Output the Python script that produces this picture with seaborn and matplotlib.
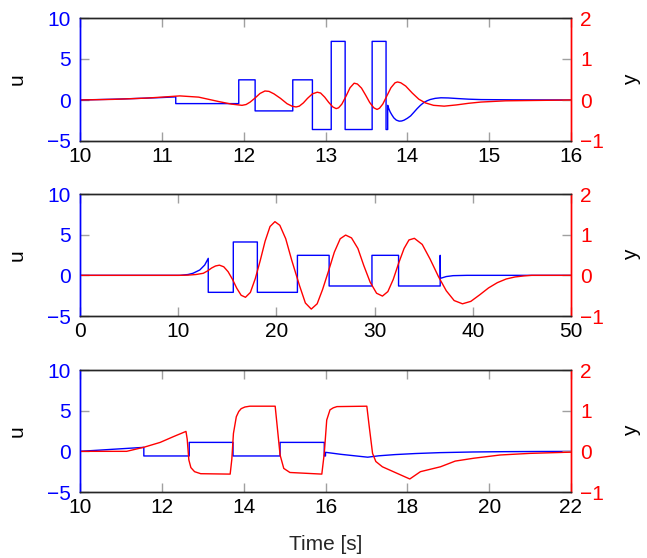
import matplotlib
matplotlib.use("Agg")
import matplotlib.pyplot as plt
import pandas as pd
import seaborn as sns

# ---------------- data ----------------
# Panel 1 (time 10..16)
p1_u_t = [10.0, 10.5, 11.0, 11.17, 11.17, 11.94, 11.94, 12.14, 12.14, 12.60, 12.60, 12.84, 12.84,
          13.07, 13.07, 13.24, 13.24, 13.57, 13.57, 13.74, 13.74, 13.76, 13.76, 13.775, 13.79,
          13.81, 13.835, 13.865, 13.90, 13.93, 13.96, 14.0, 14.04, 14.08, 14.12, 14.16, 14.20,
          14.24, 14.28, 14.34, 14.41, 14.5, 14.61, 14.75, 14.90, 15.3, 16.0]
p1_u = [0.0, 0.12, 0.3, 0.38, -0.44, -0.44, 2.46, 2.46, -1.33, -1.33, 2.46, 2.46, -3.6,
        -3.6, 7.15, 7.15, -3.6, -3.6, 7.15, 7.15, -3.6, -3.6, -0.65, -1.1, -1.45,
        -1.8, -2.18, -2.45, -2.58, -2.56, -2.46, -2.23, -1.94, -1.5, -1.05, -0.65, -0.32,
        -0.10, 0.06, 0.2, 0.27, 0.25, 0.18, 0.1, 0.05, 0.02, 0.0]
p1_y_t = [10.0, 10.4, 10.8, 11.0, 11.22, 11.45, 11.7, 11.85, 11.98, 12.03, 12.08, 12.14, 12.2,
          12.26, 12.31, 12.37, 12.45, 12.53, 12.59, 12.64, 12.68, 12.73, 12.78, 12.84, 12.90,
          12.94, 12.99, 13.04, 13.09, 13.13, 13.16, 13.20, 13.25, 13.30, 13.35, 13.39, 13.44,
          13.49, 13.54, 13.59, 13.63, 13.66, 13.70, 13.75, 13.80, 13.85, 13.88, 13.92, 13.98,
          14.06, 14.14, 14.22, 14.32, 14.45, 14.6, 14.75, 14.9, 15.2, 15.6, 16.0]
p1_y = [0.0, 0.015, 0.045, 0.07, 0.10, 0.07, -0.04, -0.10, -0.13, -0.11, -0.05, 0.05, 0.16,
        0.22, 0.21, 0.15, 0.04, -0.09, -0.15, -0.17, -0.15, -0.07, 0.04, 0.15, 0.19,
        0.17, 0.07, -0.06, -0.17, -0.21, -0.19, -0.10, 0.09, 0.30, 0.41, 0.39, 0.29,
        0.12, -0.06, -0.19, -0.23, -0.20, -0.10, 0.10, 0.30, 0.42, 0.44, 0.42, 0.34,
        0.17, 0.02, -0.07, -0.13, -0.15, -0.12, -0.08, -0.05, -0.02, -0.01, 0.0]

# Panel 2 (time 0..50)
p2_u_t = [0, 10.2, 11.0, 11.5, 12.2, 12.7, 13.06, 13.06, 15.61, 15.61, 18.06, 18.06, 22.14, 22.14,
          25.37, 25.37, 29.73, 29.73, 32.44, 32.44, 36.68, 36.68, 36.70, 37.3, 38.0, 39.4, 50]
p2_u = [0, 0, 0.1, 0.25, 0.66, 1.27, 2.09, -2.09, -2.09, 4.1, 4.1, -2.09, -2.09, 2.46,
        2.46, -1.31, -1.31, 2.46, 2.46, -1.31, -1.31, 2.46, -0.37, -0.15, -0.04, 0.0, 0.0]
p2_y_t = [0, 10, 11.0, 11.8, 12.55, 13.0, 13.4, 13.8, 14.2, 14.64, 15.08, 15.53, 15.97, 16.41,
          16.85, 17.35, 17.85, 18.35, 18.85, 19.35, 19.85, 20.35, 20.95, 21.55, 22.35, 22.95,
          23.55, 24.15, 24.7, 25.3, 25.9, 26.5, 27.05, 27.65, 28.3, 28.9, 29.55, 30.2, 30.8,
          31.35, 31.9, 32.45, 33.0, 33.5, 34.05, 34.85, 35.65, 36.5, 37.3, 38.1, 38.95, 39.8,
          40.7, 41.6, 42.5, 43.4, 44.3, 45.2, 46.0, 50]
p2_y = [0, 0, 0.005, 0.02, 0.05, 0.11, 0.18, 0.23, 0.25, 0.21, 0.09, -0.10, -0.32, -0.49,
        -0.54, -0.42, -0.08, 0.36, 0.84, 1.20, 1.32, 1.23, 0.90, 0.38, -0.25, -0.68,
        -0.83, -0.70, -0.35, 0.10, 0.57, 0.90, 0.99, 0.92, 0.66, 0.24, -0.17, -0.44, -0.51,
        -0.40, -0.10, 0.30, 0.66, 0.87, 0.91, 0.76, 0.40, -0.03, -0.38, -0.62, -0.70, -0.64,
        -0.48, -0.31, -0.18, -0.09, -0.04, -0.015, 0.0, 0.0]

# Panel 3 (time 10..22)
p3_u_t = [10, 11.56, 11.56, 12.67, 12.67, 13.74, 13.74, 14.89, 14.89, 15.97, 15.97, 16.0, 16.0,
          16.38, 17.03, 17.3, 17.7, 18.2, 18.8, 19.6, 20.4, 21.2, 22]
p3_u = [0, 0.49, -0.57, -0.57, 1.1, 1.1, -0.57, -0.57, 1.1, 1.1, -0.57, -0.57, -0.12,
        -0.37, -0.72, -0.55, -0.40, -0.27, -0.16, -0.08, -0.04, -0.02, -0.01]
p3_y_t = [10, 11.14, 11.56, 11.96, 12.28, 12.59, 12.62, 12.66, 12.71, 12.8, 12.95, 13.67, 13.71,
          13.75, 13.82, 13.88, 13.94, 14.03, 14.15, 14.77, 14.82, 14.89, 14.98, 15.13, 15.91,
          15.97, 16.03, 16.11, 16.19, 16.28, 17.01, 17.07, 17.15, 17.23, 17.39, 18.06, 18.32,
          18.81, 19.17, 19.62, 20.27, 21.0, 22]
p3_y = [0, 0.0, 0.10, 0.22, 0.36, 0.49, 0.30, -0.21, -0.40, -0.50, -0.55, -0.56, -0.20,
        0.44, 0.85, 0.98, 1.05, 1.09, 1.11, 1.11, 0.61, -0.09, -0.42, -0.52, -0.56,
        -0.05, 0.77, 1.02, 1.07, 1.10, 1.11, 0.60, -0.05, -0.25, -0.38, -0.68, -0.50,
        -0.38, -0.24, -0.17, -0.09, -0.05, -0.02]

panels = [
    dict(u_t=p1_u_t, u=p1_u, y_t=p1_y_t, y=p1_y, xlim=(10, 16), xticks=[10, 11, 12, 13, 14, 15, 16]),
    dict(u_t=p2_u_t, u=p2_u, y_t=p2_y_t, y=p2_y, xlim=(0, 50), xticks=[0, 10, 20, 30, 40, 50]),
    dict(u_t=p3_u_t, u=p3_u, y_t=p3_y_t, y=p3_y, xlim=(10, 22), xticks=[10, 12, 14, 16, 18, 20, 22]),
]
u_ticks = [-5, 0, 5, 10]
y_ticks = [-1, 0, 1, 2]

# ---------------- styling ----------------
sns.set_theme(style="white")
plt.rcParams['font.family'] = ['Liberation Sans', 'DejaVu Sans']
plt.rcParams['font.size'] = 15

W, H = 647, 558
fig = plt.figure(figsize=(W / 100, H / 100), dpi=100)
left, right = 80, 571
boxes = [(18, 141), (194, 316), (370, 492)]
gray = '#a0a0a0'

for i, (p, (top, bot)) in enumerate(zip(panels, boxes)):
    ax = fig.add_axes([left / W, 1 - bot / H, (right - left) / W, (bot - top) / H])
    ax2 = ax.twinx()
    du = pd.DataFrame({'t': p['u_t'], 'u': p['u']})
    dy = pd.DataFrame({'t': p['y_t'], 'y': p['y']})
    sns.lineplot(data=du, x='t', y='u', ax=ax, color='#0000ff', lw=1.0,
                 estimator=None, sort=False)
    sns.lineplot(data=dy, x='t', y='y', ax=ax2, color='#ff0000', lw=1.0,
                 estimator=None, sort=False)
    ax.set_xlim(*p['xlim'])
    ax.set_xticks(p['xticks'])
    ax.set_ylim(-5, 10)
    ax.set_yticks(u_ticks)
    ax2.set_ylim(-1, 2)
    ax2.set_yticks(y_ticks)

    ax.tick_params(axis='x', direction='in', top=True, bottom=True, length=6.5, width=1,
                   color=gray, labelcolor='black', labelsize=15, pad=4)
    ax.tick_params(axis='y', direction='in', left=True, right=False, length=6.5, width=1,
                   color=gray, labelcolor='#0000ff', labelsize=15, pad=6.5)
    ax2.tick_params(axis='y', direction='in', right=True, left=False, length=6.5, width=1,
                    color=gray, labelcolor='#ff0000', labelsize=15, pad=6.5)

    for a in (ax, ax2):
        a.grid(False)
        a.spines['left'].set_color('#0000ff')
        a.spines['right'].set_color('#ff0000')
        a.spines['top'].set_color('#262626')
        a.spines['bottom'].set_color('#262626')
        for s in a.spines.values():
            s.set_linewidth(1.0)

    ax.set_ylabel('u', fontsize=15, color='black')
    ax.yaxis.set_label_coords((27 - left) / (right - left), 0.5)
    ax2.set_ylabel('y', fontsize=15, color='black', rotation=90)
    ax2.yaxis.set_label_coords((622 - left) / (right - left), 0.5)

    if i == 2:
        ax.set_xlabel('Time [s]', fontsize=15)
        ax.xaxis.set_label_coords(0.5, (bot - 535) / (bot - top))
    else:
        ax.set_xlabel('')

fig.savefig('out.png', dpi=100)
